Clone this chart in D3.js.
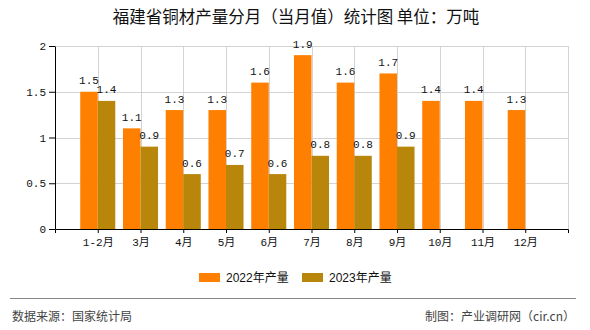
<!DOCTYPE html>
<html>
<head>
<meta charset="utf-8">
<script src="https://cdn.jsdelivr.net/npm/d3@7"></script>
<style>
  html, body { margin: 0; padding: 0; background: #fff; }
  svg { display: block; }
</style>
</head>
<body>
<svg id="chart" width="590" height="330"></svg>
<script>
const categories = ["1-2月","3月","4月","5月","6月","7月","8月","9月","10月","11月","12月"];
const series2022 = [1.5, 1.1, 1.3, 1.3, 1.6, 1.9, 1.6, 1.7, 1.4, 1.4, 1.3];
const series2023 = [1.4, 0.9, 0.6, 0.7, 0.6, 0.8, 0.8, 0.9, null, null, null];
const yTicks = [0, 0.5, 1, 1.5, 2];
const seriesNames = ["2022年产量", "2023年产量"];
const colors = ["#FF8000", "#B8860B"];
const title = "福建省铜材产量分月（当月值）统计图 单位：万吨";
const sourceText = "数据来源：国家统计局";
const creditText = "制图：产业调研网（cir.cn）";

const monoFont = "'Liberation Mono', 'Noto Sans CJK SC', monospace";
const cjkFont = "'Noto Sans CJK SC', sans-serif";

const svg = d3.select("#chart");
const pLeft = 55, pRight = 568, pTop = 46, pBottom = 229;

const x = d3.scalePoint().domain(categories).range([pLeft, pRight]).padding(1);
const y = d3.scaleLinear().domain([0, 2]).range([pBottom, pTop]);
const barW = x.step() * 0.41;

// title
svg.append("text").attr("x", 296).attr("y", 23).attr("text-anchor", "middle")
  .attr("font-family", cjkFont).attr("font-size", 16.5).attr("fill", "#111").text(title);

// grid
const grid = svg.append("g").attr("stroke", "#d3d3d3").attr("stroke-width", 1);
yTicks.filter(d => d > 0).forEach(v => {
  grid.append("line").attr("x1", pLeft).attr("x2", pRight)
    .attr("y1", Math.round(y(v)) + 0.5).attr("y2", Math.round(y(v)) + 0.5);
});
categories.forEach(c => {
  const xx = Math.round(x(c)) + 0.5;
  grid.append("line").attr("x1", xx).attr("x2", xx).attr("y1", pTop).attr("y2", pBottom);
});
grid.append("line").attr("x1", pRight + 0.5).attr("x2", pRight + 0.5).attr("y1", pTop).attr("y2", pBottom);

// bars
const data = categories.map((c, i) => ({c, v: [series2022[i], series2023[i]]}));
const barsG = svg.append("g");
const labels = svg.append("g");
[0, 1].forEach(s => {
  const sdata = data.filter(d => d.v[s] != null);
  barsG.append("g").selectAll("rect").data(sdata).join("rect")
    .attr("x", d => s === 0 ? x(d.c) - barW : x(d.c))
    .attr("width", barW)
    .attr("y", d => y(d.v[s]))
    .attr("height", d => y(0) - y(d.v[s]))
    .attr("fill", colors[s]);
  labels.selectAll("text.s" + s).data(sdata).join("text")
    .attr("class", "s" + s)
    .attr("x", d => (s === 0 ? x(d.c) - barW / 2 : x(d.c) + barW / 2))
    .attr("y", d => y(d.v[s]) - 7.5)
    .attr("text-anchor", "middle")
    .attr("font-family", monoFont).attr("font-size", 11).attr("fill", "#111")
    .text(d => d.v[s].toFixed(1));
});

// axes
const yAxis = svg.append("g").attr("transform", `translate(${pLeft},0)`)
  .call(d3.axisLeft(y).tickValues(yTicks).tickSize(6).tickSizeOuter(0).tickFormat(d => String(d)));
const xAxis = svg.append("g").attr("transform", `translate(0,${pBottom})`)
  .call(d3.axisBottom(x).tickSize(4).tickSizeOuter(4).tickPadding(5));
[yAxis, xAxis].forEach(a => {
  a.selectAll("path, line").attr("stroke", "#000");
  a.selectAll("text").attr("font-family", monoFont).attr("font-size", 11).attr("fill", "#111");
});

// legend
const legendX = [199, 302];
seriesNames.forEach((n, i) => {
  svg.append("rect").attr("x", legendX[i]).attr("y", 273).attr("width", 21).attr("height", 9).attr("fill", colors[i]);
  svg.append("text").attr("x", legendX[i] + 27).attr("y", 281.5)
    .attr("font-family", "'Liberation Sans', 'Noto Sans CJK SC', sans-serif")
    .attr("font-size", 12).attr("fill", "#111").text(n);
});

// footer
svg.append("line").attr("x1", 10).attr("x2", 576).attr("y1", 298.5).attr("y2", 298.5)
  .attr("stroke", "#888").attr("stroke-width", 1);
svg.append("text").attr("x", 12).attr("y", 321).attr("font-family", cjkFont)
  .attr("font-size", 12).attr("fill", "#444").text(sourceText);
svg.append("text").attr("x", 575).attr("y", 321).attr("text-anchor", "end").attr("font-family", cjkFont)
  .attr("font-size", 12).attr("fill", "#444").text(creditText);
</script>
</body>
</html>
